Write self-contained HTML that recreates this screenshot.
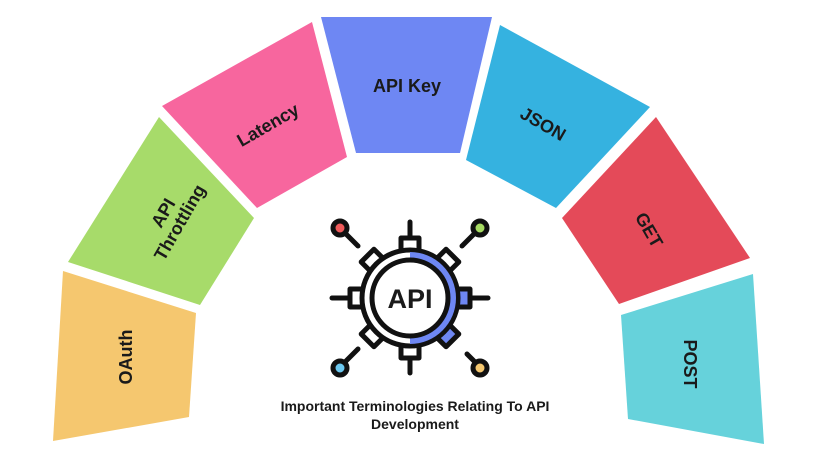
<!DOCTYPE html>
<html><head><meta charset="utf-8"><style>
html,body{margin:0;padding:0;background:#fff;}
svg{display:block}
text{font-family:"Liberation Sans",sans-serif;font-weight:bold;fill:#1a1a1a;}
</style></head><body>
<svg width="818" height="453" viewBox="0 0 818 453" xmlns="http://www.w3.org/2000/svg">
<polygon points="63,271 196,313 189,417 53,441" fill="#F5C76F"/>
<polygon points="159,117 254,218 200,305 68,262" fill="#A7DB6A"/>
<polygon points="162,106 312,22 347,157 257,208" fill="#F7669E"/>
<polygon points="321,17 492,17 460,153 356,153" fill="#6E87F3"/>
<polygon points="500,25 650,107 556,208 466,160" fill="#35B2E0"/>
<polygon points="656,117 750,258 619,304 562,218" fill="#E44A59"/>
<polygon points="621,315 753,274 764,444 628,419" fill="#66D2DB"/>

<text x="0" y="0" font-size="18" text-anchor="middle" transform="translate(132,357) rotate(-90)">OAuth</text>
<text font-size="18" text-anchor="middle" transform="translate(172,218) rotate(-60)"><tspan x="0" y="-4">API</tspan><tspan x="0" y="15">Throttling</tspan></text>
<text x="0" y="6" font-size="18" text-anchor="middle" transform="translate(268,125) rotate(-30)">Latency</text>
<text x="407" y="92" font-size="18" text-anchor="middle">API Key</text>
<text x="0" y="6" font-size="18" text-anchor="middle" transform="translate(543,124) rotate(30)">JSON</text>
<text x="0" y="6" font-size="18" text-anchor="middle" transform="translate(649,230) rotate(60)">GET</text>
<text x="0" y="6" font-size="18" text-anchor="middle" transform="translate(690,364) rotate(90)">POST</text>

<g stroke="#111" stroke-width="5" stroke-linecap="round" fill="none">
<line x1="410" y1="222" x2="410" y2="238"/>
<line x1="410" y1="357" x2="410" y2="373"/>
<line x1="332" y1="298" x2="350" y2="298"/>
<line x1="470" y1="298" x2="488" y2="298"/>
<line x1="345" y1="233" x2="358" y2="246"/>
<line x1="475" y1="233" x2="462" y2="246"/>
<line x1="345" y1="362" x2="358" y2="349"/>
<line x1="475" y1="362" x2="467" y2="354"/>
</g>
<g stroke="#111" stroke-width="5">
<circle cx="340" cy="228" r="7" fill="#EF5A5A"/>
<circle cx="480" cy="228" r="7" fill="#A6DB62"/>
<circle cx="340" cy="368" r="7" fill="#6CC8F0"/>
<circle cx="480" cy="368" r="7" fill="#F5C76F"/>
</g>
<g transform="translate(410,298)" stroke="#111" stroke-width="5" stroke-linejoin="round">
<g fill="#fff">
<rect x="-9" y="-60" width="18" height="16" transform="rotate(0)"/>
<rect x="-9" y="-60" width="18" height="16" transform="rotate(45)"/>
<rect x="-9" y="-60" width="18" height="16" transform="rotate(90)" fill="#6E87F3"/>
<rect x="-9" y="-60" width="18" height="16" transform="rotate(135)" fill="#6E87F3"/>
<rect x="-9" y="-60" width="18" height="16" transform="rotate(180)"/>
<rect x="-9" y="-60" width="18" height="16" transform="rotate(225)"/>
<rect x="-9" y="-60" width="18" height="16" transform="rotate(270)"/>
<rect x="-9" y="-60" width="18" height="16" transform="rotate(315)"/>
</g>
<circle r="48" fill="#fff"/>
<path d="M0,-46 A46,46 0 0 1 0,46 Z" fill="#6E87F3" stroke="none"/>
<circle r="38" fill="#fff"/>
</g>
<text x="410" y="308" font-size="27" text-anchor="middle">API</text>
<text x="415" y="411" font-size="14" text-anchor="middle" fill="#000">Important Terminologies Relating To API</text>
<text x="415" y="429" font-size="14" text-anchor="middle" fill="#000">Development</text>
</svg>
</body></html>
